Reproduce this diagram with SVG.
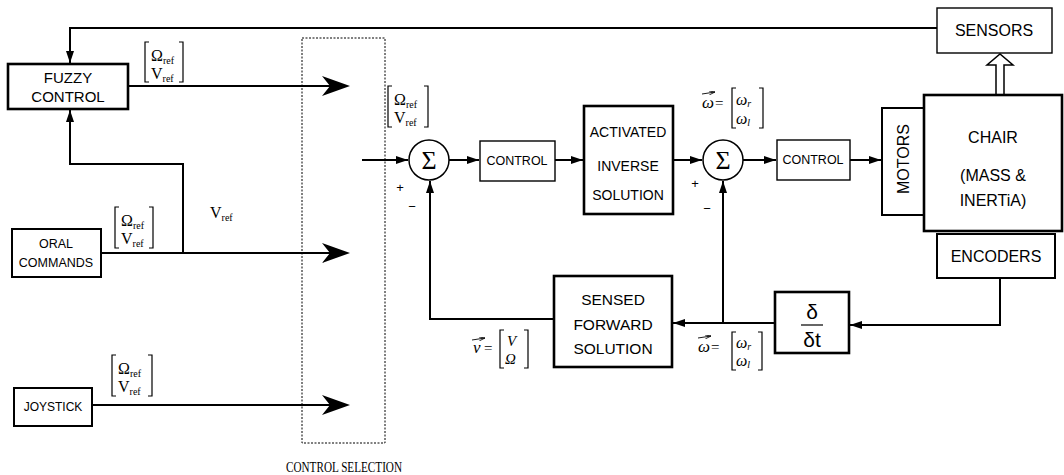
<svg xmlns="http://www.w3.org/2000/svg" xmlns:xlink="http://www.w3.org/1999/xlink" width="1064" height="475" viewBox="0 0 1064 475">
<defs>
<style>
.box{fill:#fff;stroke:#000;stroke-width:2}
.thin{stroke-width:1.4}
.thick{stroke-width:2.6}
.ln{fill:none;stroke:#000;stroke-width:2}
.br{fill:none;stroke:#000;stroke-width:1.2}
.t{font-family:"Liberation Sans",Arial,sans-serif;fill:#000;text-anchor:middle}
.m{font-family:"Liberation Serif","Times New Roman",serif;fill:#000}
.mi{font-family:"Liberation Serif","Times New Roman",serif;font-style:italic;fill:#000}
</style>
<marker id="ah" viewBox="0 0 12 8" refX="12" refY="4" markerWidth="12" markerHeight="8" markerUnits="userSpaceOnUse" orient="auto">
<path d="M0,0 L12,4 L0,8 Z" fill="#000"/>
</marker>
<marker id="sa" viewBox="0 0 6 4" refX="6" refY="2" markerWidth="6" markerHeight="4" markerUnits="userSpaceOnUse" orient="auto">
<path d="M0,0 L6,2 L0,4" fill="none" stroke="#000" stroke-width="0.8"/>
</marker>
<path id="big" d="M0,0 L-28,-10 L-20,0 L-28,10 Z" fill="#000"/>
</defs>

<g id="connectors">
<path class="ln" d="M937,28 L70,28 L70,63" marker-end="url(#ah)"/>
<path class="ln" d="M183,253 L183,164 L70,164 L70,110" marker-end="url(#ah)"/>
<path class="ln" d="M128,86 L332,86"/>
<use xlink:href="#big" x="350" y="86"/>
<path class="ln" d="M101,253 L332,253"/>
<use xlink:href="#big" x="350" y="253"/>
<path class="ln" d="M92,405 L332,405"/>
<use xlink:href="#big" x="350" y="405"/>
<path class="ln" d="M362,160 L408,160" marker-end="url(#ah)"/>
<path class="ln" d="M449,160 L479,160" marker-end="url(#ah)"/>
<path class="ln" d="M555,160 L583,160" marker-end="url(#ah)"/>
<path class="ln" d="M673,160 L702,160" marker-end="url(#ah)"/>
<path class="ln" d="M743,160 L776,160" marker-end="url(#ah)"/>
<path class="ln" d="M850,160 L881,160" marker-end="url(#ah)"/>
<path class="ln" d="M1000,278 L1000,325 L850,325" marker-end="url(#ah)"/>
<path class="ln" d="M775,323 L673,323" marker-end="url(#ah)"/>
<path class="ln" d="M723,323 L723,181" marker-end="url(#ah)"/>
<path class="ln" d="M554,319 L430,319 L430,181" marker-end="url(#ah)"/>
<polygon points="996,95 996,65 987,65 1000,54 1013,65 1004,65 1004,95" fill="#fff" stroke="#000" stroke-width="1.5"/>
</g>

<g id="control-selection">
<rect x="302" y="38" width="83" height="405" fill="none" stroke="#000" stroke-width="1" stroke-dasharray="2,1.5"/>
<text class="m" x="344" y="472" font-size="15" text-anchor="middle" textLength="116" lengthAdjust="spacingAndGlyphs">CONTROL SELECTION</text>
</g>

<g id="fuzzy">
<rect class="box thick" x="8" y="64" width="120" height="45"/>
<text class="t" x="68" y="83" font-size="15">FUZZY</text>
<text class="t" x="68" y="102" font-size="15">CONTROL</text>
</g>

<g id="oral">
<rect class="box" x="12" y="229" width="89" height="48"/>
<text class="t" x="56" y="248" font-size="12.5">ORAL</text>
<text class="t" x="56" y="267" font-size="12.5">COMMANDS</text>
</g>

<g id="joystick">
<rect class="box" x="14" y="388" width="78" height="38"/>
<text class="t" x="53" y="411" font-size="12">JOYSTICK</text>
</g>

<g id="labels-ref">
<path class="br" d="M149,42 L145,42 L145,82 L149,82 M179,42 L183,42 L183,82 L179,82"/>
<text class="m" x="151" y="61" font-size="16">Ω<tspan font-size="10" dy="3">ref</tspan></text>
<text class="m" x="151" y="79" font-size="16">V<tspan font-size="10" dy="3">ref</tspan></text>

<path class="br" d="M119,207 L115,207 L115,248 L119,248 M149,207 L153,207 L153,248 L149,248"/>
<text class="m" x="121" y="226" font-size="16">Ω<tspan font-size="10" dy="3">ref</tspan></text>
<text class="m" x="121" y="244" font-size="16">V<tspan font-size="10" dy="3">ref</tspan></text>

<path class="br" d="M116,355 L112,355 L112,396 L116,396 M148,355 L152,355 L152,396 L148,396"/>
<text class="m" x="118" y="374" font-size="16">Ω<tspan font-size="10" dy="3">ref</tspan></text>
<text class="m" x="118" y="392" font-size="16">V<tspan font-size="10" dy="3">ref</tspan></text>

<path class="br" d="M392,86 L388,86 L388,127 L392,127 M424,86 L428,86 L428,127 L424,127"/>
<text class="m" x="394" y="105" font-size="16">Ω<tspan font-size="10" dy="3">ref</tspan></text>
<text class="m" x="394" y="123" font-size="16">V<tspan font-size="10" dy="3">ref</tspan></text>

<text class="m" x="210" y="218" font-size="16">V<tspan font-size="10" dy="3">ref</tspan></text>
</g>

<g id="sum1">
<circle cx="429" cy="160" r="20" fill="#fff" stroke="#000" stroke-width="1.5"/>
<text class="m" x="429" y="169" font-size="26" text-anchor="middle">Σ</text>
<text class="t" x="400" y="192" font-size="13">+</text>
<text class="t" x="412" y="211" font-size="13">−</text>
</g>

<g id="control1">
<rect class="box thin" x="480" y="141" width="75" height="40"/>
<text class="t" x="517" y="165" font-size="12.5">CONTROL</text>
</g>

<g id="activated">
<rect class="box thick" x="584" y="106" width="89" height="108"/>
<text class="t" x="628" y="137" font-size="14">ACTIVATED</text>
<text class="t" x="628" y="171" font-size="14">INVERSE</text>
<text class="t" x="628" y="200" font-size="14">SOLUTION</text>
</g>

<g id="sum2">
<circle cx="723" cy="160" r="20" fill="#fff" stroke="#000" stroke-width="1.5"/>
<text class="m" x="723" y="169" font-size="26" text-anchor="middle">Σ</text>
<text class="t" x="695" y="188" font-size="13">+</text>
<text class="t" x="707" y="213" font-size="13">−</text>
</g>

<g id="omega-top">
<text class="mi" x="702" y="108" font-size="17">ω</text>
<path d="M702,94 L715,92" fill="none" stroke="#000" stroke-width="0.9" marker-end="url(#sa)"/>
<text class="m" x="715" y="108" font-size="15">=</text>
<path class="br" d="M736,88 L732,88 L732,128 L736,128 M759,88 L763,88 L763,128 L759,128"/>
<text class="mi" x="736" y="105" font-size="16">ω<tspan font-size="10" dy="2">r</tspan></text>
<text class="mi" x="736" y="124" font-size="16">ω<tspan font-size="10" dy="2">l</tspan></text>
</g>

<g id="control2">
<rect class="box thin" x="777" y="140" width="73" height="40"/>
<text class="t" x="813" y="164" font-size="12.5">CONTROL</text>
</g>

<g id="motors">
<rect class="box" x="882" y="108" width="42" height="107"/>
<text class="t" x="0" y="0" font-size="16" transform="translate(909,159) rotate(-90)">MOTORS</text>
</g>

<g id="chair">
<rect class="box thick" x="924" y="95" width="138" height="136"/>
<text class="t" x="993" y="143" font-size="16">CHAIR</text>
<text class="t" x="993" y="181" font-size="16">(MASS &amp;</text>
<text class="t" x="993" y="206" font-size="16">INERTiA)</text>
</g>

<g id="sensors">
<rect class="box thin" x="937" y="8" width="115" height="45"/>
<text class="t" x="994" y="36" font-size="16">SENSORS</text>
</g>

<g id="encoders">
<rect class="box" x="937" y="234" width="118" height="44"/>
<text class="t" x="996" y="262" font-size="16">ENCODERS</text>
</g>

<g id="ddt">
<rect class="box thick" x="775" y="292" width="74" height="61"/>
<text class="t" x="812" y="319" font-size="21">δ</text>
<path d="M801,325 L823,325" stroke="#000" stroke-width="1.2"/>
<text class="t" x="812" y="347" font-size="21">δt</text>
</g>

<g id="sensed">
<rect class="box thick" x="554" y="276" width="118" height="91"/>
<text class="t" x="613" y="305" font-size="15.5">SENSED</text>
<text class="t" x="613" y="330" font-size="15.5">FORWARD</text>
<text class="t" x="613" y="354" font-size="15.5">SOLUTION</text>
</g>

<g id="omega-bottom">
<text class="mi" x="698" y="352" font-size="17">ω</text>
<path d="M698,338 L711,336" fill="none" stroke="#000" stroke-width="0.9" marker-end="url(#sa)"/>
<text class="m" x="711" y="352" font-size="15">=</text>
<path class="br" d="M736,332 L732,332 L732,370 L736,370 M758,332 L762,332 L762,370 L758,370"/>
<text class="mi" x="736" y="348" font-size="16">ω<tspan font-size="10" dy="2">r</tspan></text>
<text class="mi" x="736" y="366" font-size="16">ω<tspan font-size="10" dy="2">l</tspan></text>
</g>

<g id="v-label">
<text class="mi" x="473" y="353" font-size="17">v</text>
<path d="M472,340 L485,338" fill="none" stroke="#000" stroke-width="0.9" marker-end="url(#sa)"/>
<text class="m" x="484" y="353" font-size="15">=</text>
<path class="br" d="M504,330 L500,330 L500,368 L504,368 M524,330 L528,330 L528,368 L524,368"/>
<text class="mi" x="507" y="346" font-size="15">V</text>
<text class="mi" x="505" y="364" font-size="15">Ω</text>
</g>
</svg>
